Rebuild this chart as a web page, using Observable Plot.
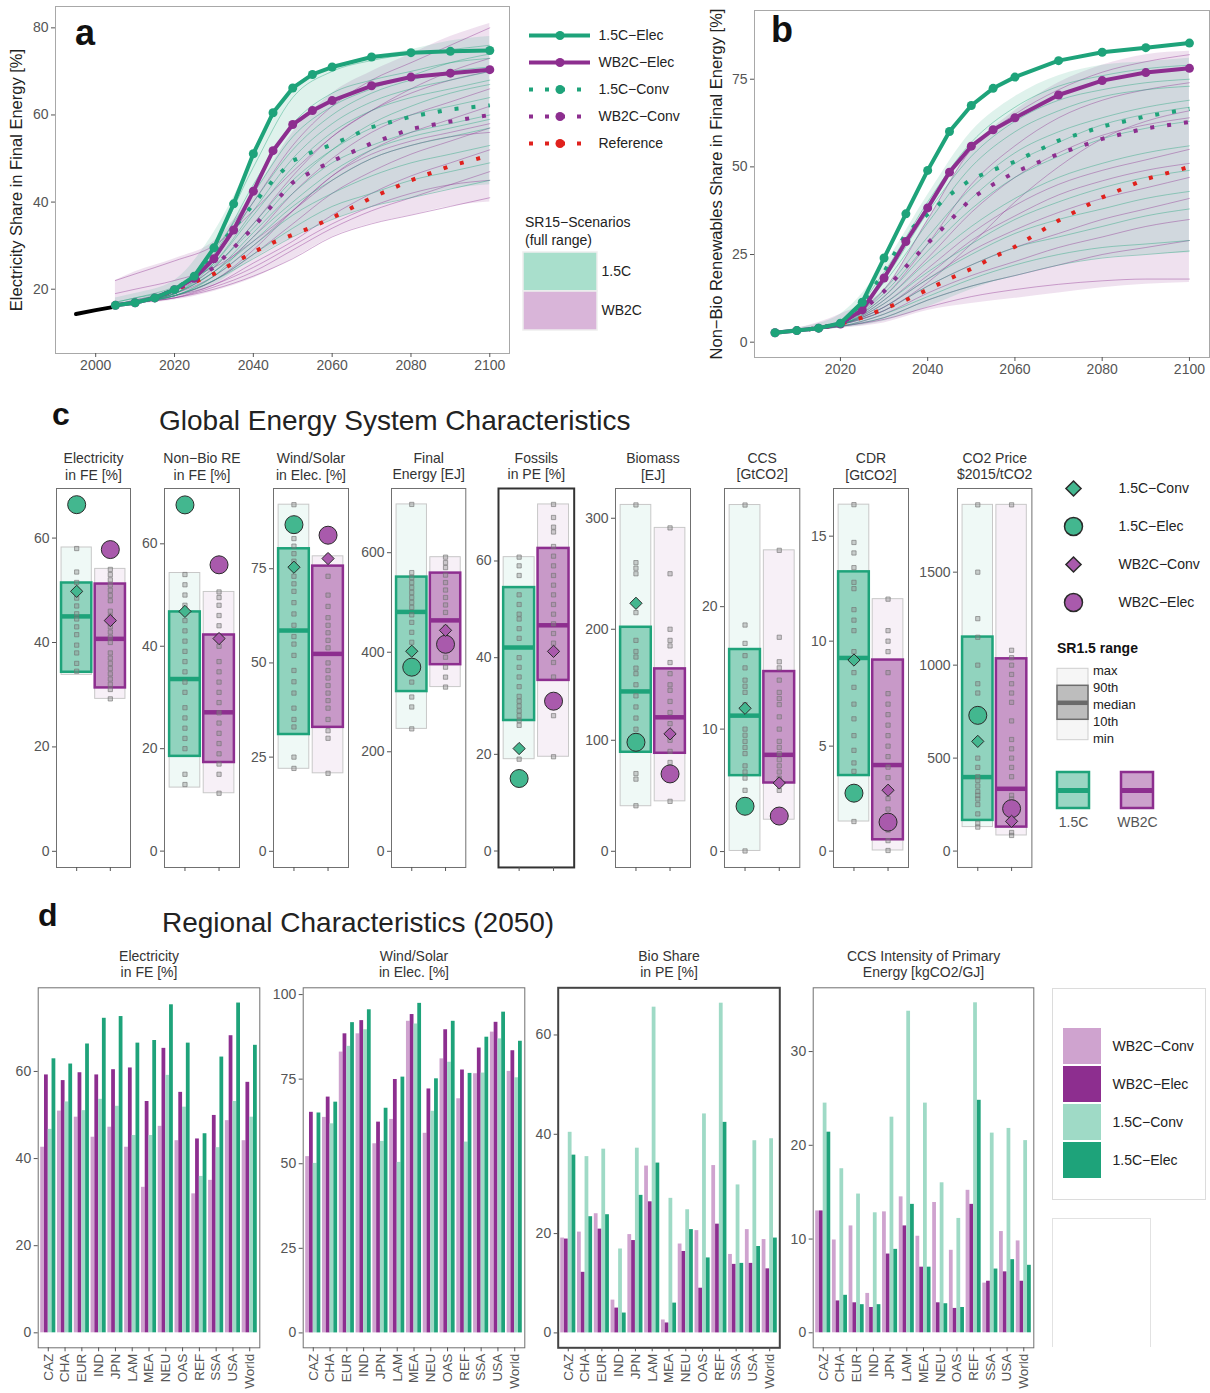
<!DOCTYPE html>
<html><head><meta charset="utf-8">
<script src="https://cdn.jsdelivr.net/npm/d3@7"></script>
<script src="https://cdn.jsdelivr.net/npm/@observablehq/plot@0.6"></script>
<style>
body{margin:0;background:#fff;font-family:"Liberation Sans",Arial,sans-serif;}
#root{position:relative;width:1210px;height:1393px;overflow:hidden;background:#fff;}
.abs{position:absolute;}
.abs svg{display:block;overflow:visible;}
.txt{position:absolute;white-space:nowrap;line-height:1;color:#111;}
</style></head><body><div id="root"></div>
<script>
// ---------------- DATA ----------------
// Panels a/b: highlighted scenario series
const years = [2005,2010,2015,2020,2025,2030,2035,2040,2045,2050,2055,2060,2070,2080,2090,2100];
const histYears = [1995,2000,2005];
const aHist = [14.3,15.2,16.0];
const aElec15 = [16.3,16.9,18.0,19.9,23.0,29.5,39.6,51.1,60.5,66.2,69.3,71.0,73.3,74.3,74.6,74.8];
const aElecWB = [16.3,16.9,18.0,19.9,22.5,27.0,33.6,42.5,51.8,57.8,61.0,63.3,66.7,68.7,69.6,70.4];
const aConv15 = [16.3,16.9,18.0,19.9,23.0,28.5,34.0,39.5,45.0,49.5,51.5,53.2,57.2,59.6,61.3,62.2];
const aConvWB = [16.3,16.9,18.0,19.8,22.0,25.0,29.5,34.2,39.5,44.5,47.1,49.4,53.5,56.8,58.5,60.0];
const aRef    = [16.3,16.9,18.0,19.8,21.6,23.5,26.0,28.5,30.7,32.5,34.3,36.4,41.0,45.0,48.3,50.7];
const bElec15 = [2.7,3.3,4.0,5.4,11.4,24.0,36.6,49.0,60.1,67.5,72.4,75.6,80.3,82.7,84.0,85.3];
const bElecWB = [2.7,3.3,4.0,5.2,9.2,18.3,28.7,38.3,48.5,55.9,60.6,64.0,70.5,74.6,76.9,78.1];
const bConv15 = [2.7,3.3,4.0,5.4,11.0,20.0,31.0,36.5,42.0,46.5,49.1,51.5,57.5,61.5,64.4,66.5];
const bConvWB = [2.7,3.3,4.0,5.2,9.0,14.5,21.5,28.2,34.5,41.0,45.0,48.5,53.7,58.0,61.0,62.8];
const bRef    = [2.7,3.3,4.0,5.2,7.0,9.5,12.0,15.0,18.1,20.9,24.2,27.2,34.7,41.3,46.5,50.0];

// SR15 scenario ensembles (panels a/b)
const scenYears = [2005,2010,2020,2030,2040,2050,2060,2070,2080,2090,2100];
const aBand15Lo = [16,16.5,18,21,27,32,36,39,41,43,44];
const aBand15Hi = [18,19,22,33,50,66,71,73.5,75,77,78];
const aBandWBLo = [16,16.5,17.5,19.5,22.5,27,32,35,37,39,40];
const aBandWBHi = [22,24,27,31,42,56,65,70,74,78,81];
const aLines15 = [
 [16.5,17,19.5,30,48,64,70,72.5,74,75,76],[16.5,17,20,28,44,58,65,68,70,72,73],
 [16.5,17,19.5,27,40,52,60,65,68,70,71],[16.5,17.5,20,26,37,48,56,61,64,66,68],
 [16.5,17,19,25,35,45,52,57,60,62,64],[16.5,17,19,24,33,42,49,53,56,58,60],
 [16.5,17,19,24,31,39,45,50,53,55,57],[16.5,17,18.5,23,30,37,42,46,49,51,53],
 [16.5,17,18.5,22,28,34,39,42,45,47,49],[16.5,17,18.5,22,27,32,36,39,41,43,45],
 [17,18,20,29,42,55,62,66,69,72,74],[17,18,20.5,25.5,34,44,52,58,62,65,67],
 [16.5,17,19,26,38,50,58,63,66,68,70],[16.5,17,18.5,23,32,40,47,52,55,57,59]];
const aLinesWB = [
 [22,23.5,26.5,30,38,47,55,61,66,70,73],[16.5,17.5,20,27,40,53,62,68,72,76,80],
 [16.5,17,19.5,25,35,46,55,61,65,68,70],[16.5,17,19,24,32,42,50,56,60,63,66],
 [16.5,17,19,23,30,38,46,52,56,59,62],[16.5,17,18.5,22,28,35,42,47,51,54,57],
 [16.5,17,18.5,21,26,31,37,42,46,49,52],[16.5,17,18,20.5,24,29,34,38,41,44,47],
 [16.5,17,18,20,23,27,32,35,37,39,41],[19,20,22,25,31,38,45,50,53,55,56],
 [16.5,17,18.5,22,29,38,46,51,54,56,58],[16.5,17,18,21,25,30,35,39,42,44,45]];
const bBand15Lo = [2.5,3,4,6,10,15,19,22,24,25,25.5];
const bBand15Hi = [3,4,8,22,42,60,70,76,79,80,81];
const bBandWBLo = [2.5,3,4,5.5,9,11,12.5,14,15.5,16.5,17];
const bBandWBHi = [3,4,8,15,35,55,66,74,79,82,83];
const bLines15 = [
 [2.7,3.3,5.5,20,40,57,67,73,76,78,79],[2.7,3.3,5.5,17,34,50,60,66,70,72,73],
 [2.7,3.3,5.5,15,30,44,54,60,64,67,69],[2.7,3.3,5,13,26,38,47,53,58,61,63],
 [2.7,3.3,5,12,23,33,41,47,51,54,56],[2.7,3.3,5,11,20,28,35,40,44,47,49],
 [2.7,3.3,5,10,18,25,31,35,38,41,43],[2.7,3.3,5,9,16,22,27,30,33,36,38],
 [2.7,3.3,4.5,8,13,18,22,25,27,28,29],[2.7,3.3,4.5,7,12,16,19,22,24,25,26],
 [2.7,3.3,6,18,37,53,63,69,72,74,75],[2.7,3.3,5,14,28,41,51,57,62,65,67]];
const bLinesWB = [
 [2.7,3.3,5.5,15,35,55,65,72,77,80,82],[2.7,3.3,5.5,13,28,45,56,64,69,72,74],
 [2.7,3.3,5,12,24,37,47,54,59,62,64],[2.7,3.3,5,11,21,31,39,45,49,52,55],
 [2.7,3.3,5,10,18,26,32,37,41,44,47],[2.7,3.3,5,9,16,22,27,31,35,38,41],
 [2.7,3.3,4.5,8,14,19,23,27,30,33,35],[2.7,3.3,4.5,7,12,16,19,22,25,27,29],
 [2.7,3.3,4.5,6.5,10,13,15,16.5,17.5,18,18],[2.7,3.3,5,9,17,28,40,50,58,63,66],
 [2.7,3.3,5,10,19,29,36,42,46,49,51]];

// Panel c: global indicators (2050)
const cTitles = ["Electricity\nin FE [%]","Non\u2212Bio RE\nin FE [%]","Wind/Solar\nin Elec. [%]","Final\nEnergy [EJ]","Fossils\nin PE [%]","Biomass\n[EJ]","CCS\n[GtCO2]","CDR\n[GtCO2]","CO2 Price\n$2015/tCO2"];
const cGroups = ["1.5C","WB2C"];
const c15Min  = [33.8,12.4,21.9,246,19.0,40.6,0.05,1.41,129];
const c15P10  = [34.3,18.5,31.0,321,27.0,89.2,6.2,3.6,165];
const c15Med  = [45.0,33.6,58.6,481,42.1,144,11.1,9.2,398];
const c15P90  = [51.4,46.7,80.3,551,54.5,201.8,16.5,13.3,1151];
const c15Max  = [58.2,54.3,92.0,697,60.8,312,28.3,16.5,1862];
const c15Conv = [49.8,46.8,75.4,402,21.2,223.4,11.7,9.1,590];
const c15Elec = [66.4,67.6,86.7,370,15.0,98.2,3.7,2.76,730];
const cWBMin  = [29.2,11.3,20.7,330,19.5,45,2.6,0.03,84];
const cWBP10  = [31.3,17.3,32.9,375,35.3,88.3,5.6,0.54,129];
const cWBMed  = [40.7,27.1,52.4,464,46.7,120.7,7.9,4.1,335];
const cWBP90  = [51.2,42.2,75.7,559,62.6,164.3,14.7,9.1,1034];
const cWBMax  = [54.1,50.6,78.3,591,71.7,291.3,24.6,12.0,1862];
const cWBConv = [44.2,41.5,77.7,444,41.3,105.8,5.6,2.9,160];
const cWBElec = [57.8,55.9,83.9,416,31.0,69.7,2.9,1.38,228];
const c15Scatter = [
 [58,53.5,51.5,50,48.5,47,45.5,44.5,43,41.5,39.5,38,36,34.5],
 [54,52,50,48,45,43,41,39,37,35,33,31,28,26,24,22,20,15,13],
 [92,85,83,81,79,77,73,71,69,66,63,60,57,55,52,48,45,42,38,35,33,25,22],
 [697,560,550,540,530,520,510,500,490,475,460,440,420,380,360,340,310,290,246],
 [60.8,59,57,53,51,49,48,46,44,40,38,36,34,32,31,30,29,28,27,26,19],
 [312,260,255,250,215,190,180,175,165,160,150,140,130,120,110,95,70,65,41],
 [28.3,18.5,17,16,15,14,13.5,13,12,10,9.5,9,8.5,8,7,6.5,6,5,0.05],
 [16.5,14.7,14.2,13.5,12.8,12.5,11.5,11,10.5,9.5,8.5,7.8,7,6.3,5.5,4.8,4.2,3.8,1.41],
 [1862,1500,1250,1150,1000,900,850,700,500,450,400,380,350,320,300,280,250,200,150,129]];
const cWBScatter = [
 [54,53,52,51,50,49,48,46,45,43,42,41,40,38,37,36,35,34,33,32,31,29.2],
 [50.6,49.5,48,46,44,40,37,35,33,31,29,27,25,23,21,19,17,15,11.3],
 [78.3,73,68,65,62,60,58,56,54,50,48,46,44,42,40,38,35,32,30,20.7],
 [591,580,570,555,540,525,510,495,480,450,435,420,405,390,370,350,330],
 [71.7,69,67,66,63,61,59,57,55,53,51,49,47,45,43,39,36,30,28,19.5],
 [291.3,250,200,190,185,170,160,150,145,135,125,115,100,90,80,45],
 [24.6,17.5,15.5,15,14,13,12.5,12,11,10,9,8.5,8,7.5,7,6.5,6,5,2.6],
 [12,10.5,10,9.5,8.5,7.5,7,6.5,6,5.5,5,4.5,4,3.5,3,2.5,2,1.5,1,0.5,0.03],
 [1862,1080,1040,1000,950,900,850,800,700,600,550,500,450,400,300,280,250,200,150,100,84]];
const cScenarioLabels = ["1.5C\u2212Conv","1.5C\u2212Elec","WB2C\u2212Conv","WB2C\u2212Elec"];
const rangeLabels = ["max","90th","median","10th","min"];
const rangeLevels = [4,3,2,1,0];

// Panel d: regional indicators (2050)
const regions = ["CAZ","CHA","EUR","IND","JPN","LAM","MEA","NEU","OAS","REF","SSA","USA","World"];
const dSeries = ["WB2C\u2212Conv","WB2C\u2212Elec","1.5C\u2212Conv","1.5C\u2212Elec"];
const dTitles = ["Electricity\nin FE [%]","Wind/Solar\nin Elec. [%]","Bio Share\nin PE [%]","CCS Intensity of Primary\nEnergy [kgCO2/GJ]"];
const dElecWBConv = [42.6,50.9,49.5,44.9,47.2,42.6,33.4,47.4,44.1,31.9,35.0,48.7,44.1];
const dElecWBElec = [59.2,57.9,59.7,59.2,60.4,60.8,53.1,65.3,55.2,44.5,49.9,68.2,57.5];
const dElec15Conv = [46.7,53.0,51.0,53.6,52.0,45.3,45.3,59.1,51.8,35.9,42.5,53.1,49.5];
const dElec15Elec = [62.9,61.7,66.3,72.2,72.6,66.5,67.1,75.3,66.5,45.7,63.3,75.7,66.0];
const dWindWBConv = [52.1,63.7,83.0,88.4,55.9,63.1,92.1,59.0,81.0,69.2,76.6,88.9,77.3];
const dWindWBElec = [65.2,69.7,88.4,92.3,62.3,74.9,94.1,72.1,89.6,77.7,84.2,91.8,83.4];
const dWind15Conv = [50.1,61.8,84.7,89.6,56.6,50.4,91.3,65.5,80.0,56.4,76.8,86.9,75.4];
const dWind15Elec = [65.0,68.2,91.7,95.5,66.4,75.6,97.4,75.1,92.1,76.7,87.4,94.8,86.2];
const dBioWBConv = [19.1,20.3,24.0,6.6,19.8,33.6,2.6,17.9,20.6,33.7,15.8,20.8,18.8];
const dBioWBElec = [18.9,12.2,20.9,5.0,18.6,26.4,2.0,16.4,9.0,21.9,13.8,14.0,12.9];
const dBio15Conv = [40.4,35.5,37.0,16.9,37.2,65.6,27.1,24.8,44.1,66.4,29.8,38.7,39.1];
const dBio15Elec = [35.8,23.4,23.8,4.0,27.7,34.2,6.0,20.8,15.1,42.4,14.0,17.4,19.1];
const dCcsWBConv = [13.0,9.9,11.4,4.2,12.9,14.5,10.3,13.9,8.8,15.2,5.3,10.8,9.8];
const dCcsWBElec = [13.0,3.4,3.2,2.7,8.4,11.4,7.0,3.2,2.6,13.7,5.5,6.5,5.5];
const dCcs15Conv = [24.5,17.5,14.8,12.8,23.0,34.3,24.5,16.0,12.2,35.2,21.3,21.8,20.5];
const dCcs15Elec = [21.4,4.0,3.0,3.0,8.9,13.7,7.0,3.1,2.7,24.8,6.8,7.8,7.2];

// ---------------- STYLE ----------------
const G = "#1ea37a", P = "#8d2e8f", R = "#e0211d";
const Gmid = "#43b78f", Pmid = "#a95aac";
const dColors = ["#cfa3cf","#8d2e8f","#9fdac6","#1ea37a"];
const baseStyle = "background:transparent;overflow:visible;max-width:none;font-family:'Liberation Sans',Arial,sans-serif;font-size:14px;color:#555;";
const root = document.getElementById("root");
function place(node, left, top) {
  const d = document.createElement("div");
  d.className = "abs"; d.style.left = left + "px"; d.style.top = top + "px";
  d.appendChild(node); root.appendChild(d); return d;
}
function txt(s, left, top, css) {
  const d = document.createElement("div");
  d.className = "txt"; d.textContent = s;
  d.style.left = left + "px"; d.style.top = top + "px";
  d.style.cssText += css || "";
  root.appendChild(d); return d;
}
const seriesRows = (xs, ys) => xs.map((x, i) => ({year: x, value: ys[i]}));
const scenRows = (lines) => lines.flatMap((vals, id) => vals.map((v, i) => ({year: scenYears[i], value: v, id})));
const bandRows = (lo, hi) => scenYears.map((y, i) => ({year: y, lo: lo[i], hi: hi[i]}));

// ---------------- PANELS a / b ----------------
function linePanel(cfg) {
  const dotted = {x: "year", y: "value", strokeWidth: 4, strokeDasharray: "4,13", strokeLinecap: "butt"};
  const marks = [
    Plot.areaY(bandRows(cfg.bandWBLo, cfg.bandWBHi), {x: "year", y1: "lo", y2: "hi", fill: P, fillOpacity: 0.14, curve: "monotone-x"}),
    Plot.areaY(bandRows(cfg.band15Lo, cfg.band15Hi), {x: "year", y1: "lo", y2: "hi", fill: G, fillOpacity: 0.14, curve: "monotone-x"}),
    Plot.line(scenRows(cfg.linesWB), {x: "year", y: "value", z: "id", stroke: P, strokeOpacity: 0.45, strokeWidth: 0.9, curve: "monotone-x"}),
    Plot.line(scenRows(cfg.lines15), {x: "year", y: "value", z: "id", stroke: G, strokeOpacity: 0.45, strokeWidth: 0.9, curve: "monotone-x"}),
    Plot.line(seriesRows(years, cfg.ref), {...dotted, stroke: R}),
    Plot.line(seriesRows(years, cfg.convWB), {...dotted, stroke: P}),
    Plot.line(seriesRows(years, cfg.conv15), {...dotted, stroke: G}),
  ];
  if (cfg.hist) marks.push(Plot.line(seriesRows(histYears, cfg.hist), {x: "year", y: "value", stroke: "#000", strokeWidth: 4}));
  marks.push(
    Plot.line(seriesRows(years, cfg.elecWB), {x: "year", y: "value", stroke: P, strokeWidth: 4}),
    Plot.dot(seriesRows(years, cfg.elecWB), {x: "year", y: "value", fill: P, r: 4.5}),
    Plot.line(seriesRows(years, cfg.elec15), {x: "year", y: "value", stroke: G, strokeWidth: 4}),
    Plot.dot(seriesRows(years, cfg.elec15), {x: "year", y: "value", fill: G, r: 4.5}),
    Plot.frame({stroke: "#a8a8a8"}),
    Plot.axisX({ticks: cfg.xTicks, tickFormat: "d", tickSize: 4, tickPadding: 3, label: null}),
    Plot.axisY({ticks: cfg.yTicks, tickFormat: "d", tickSize: 4, tickPadding: 3, label: null}),
    Plot.text([cfg.ylabel], {text: d => d, frameAnchor: "left", textAnchor: "middle", rotate: -90, dx: cfg.labelDx, fontSize: 16.5, fill: "#222"})
  );
  return Plot.plot({
    width: cfg.width, height: cfg.height,
    marginLeft: cfg.ml, marginRight: cfg.mr, marginTop: cfg.mt, marginBottom: cfg.mb,
    style: baseStyle,
    x: {domain: cfg.xDomain}, y: {domain: cfg.yDomain},
    marks
  });
}

place(linePanel({
  width: 520, height: 380, ml: 55, mr: 11, mt: 6, mb: 27,
  xDomain: [1989.8, 2105], yDomain: [5.24, 84.9],
  xTicks: [2000,2020,2040,2060,2080,2100], yTicks: [20,40,60,80],
  ylabel: "Electricity Share in Final Energy [%]", labelDx: -39,
  hist: aHist, elec15: aElec15, elecWB: aElecWB, conv15: aConv15, convWB: aConvWB, ref: aRef,
  band15Lo: aBand15Lo, band15Hi: aBand15Hi, bandWBLo: aBandWBLo, bandWBHi: aBandWBHi,
  lines15: aLines15, linesWB: aLinesWB
}), 0, 0);

place(linePanel({
  width: 510, height: 380, ml: 54, mr: 1, mt: 10, mb: 23,
  xDomain: [2000.3, 2104.6], yDomain: [-4.37, 94.6],
  xTicks: [2020,2040,2060,2080,2100], yTicks: [0,25,50,75],
  ylabel: "Non\u2212Bio Renewables Share in Final Energy [%]", labelDx: -38,
  hist: null, elec15: bElec15, elecWB: bElecWB, conv15: bConv15, convWB: bConvWB, ref: bRef,
  band15Lo: bBand15Lo, band15Hi: bBand15Hi, bandWBLo: bBandWBLo, bandWBHi: bBandWBHi,
  lines15: bLines15, linesWB: bLinesWB
}), 700, 0);

txt("a", 75, 15, "font-size:36px;font-weight:bold;");
txt("b", 771, 12, "font-size:36px;font-weight:bold;");

// Panel a legend (lines)
const aLegend = [
  {label: "1.5C\u2212Elec", color: G, solid: true},
  {label: "WB2C\u2212Elec", color: P, solid: true},
  {label: "1.5C\u2212Conv", color: G, solid: false},
  {label: "WB2C\u2212Conv", color: P, solid: false},
  {label: "Reference", color: R, solid: false}
];
place(Plot.plot({
  width: 190, height: 138, marginLeft: 9, marginRight: 120, marginTop: 14, marginBottom: 14,
  style: baseStyle,
  x: {domain: [0, 1], axis: null},
  y: {type: "point", domain: aLegend.map(d => d.label), padding: 0, axis: null},
  marks: [
    Plot.ruleY(aLegend.filter(d => d.solid), {y: "label", x1: 0, x2: 1, stroke: "color", strokeWidth: 4}),
    Plot.ruleY(aLegend.filter(d => !d.solid), {y: "label", x1: 0, x2: 1, stroke: "color", strokeWidth: 4, strokeDasharray: "4,12"}),
    Plot.dot(aLegend, {y: "label", x: 0.5, fill: "color", r: 4.5}),
    Plot.text(aLegend, {y: "label", x: 1, text: "label", dx: 8, textAnchor: "start", fontSize: 14, fill: "#222"})
  ]
}), 520, 20);

// Panel a legend (SR15 ranges)
txt("SR15\u2212Scenarios", 525, 215, "font-size:14px;color:#222;");
txt("(full range)", 525, 233, "font-size:14px;color:#222;");
place(Plot.plot({
  width: 110, height: 88, marginLeft: 8, marginRight: 28, marginTop: 5, marginBottom: 5,
  style: baseStyle,
  x: {domain: [0, 1], axis: null},
  y: {type: "band", domain: cGroups, padding: 0, axis: null},
  marks: [
    Plot.barX(cGroups, {y: d => d, x1: 0, x2: 1, fill: d => d === "1.5C" ? "#a9dfcc" : "#d9b5d9", stroke: "#eeeeee", strokeWidth: 1.5}),
    Plot.text(cGroups, {y: d => d, x: 1, text: d => d, dx: 4, textAnchor: "start", fontSize: 14, fill: "#222"})
  ]
}), 515, 247);

// ---------------- PANEL c ----------------
txt("c", 52, 398, "font-size:32px;font-weight:bold;");
txt("Global Energy System Characteristics", 159, 407, "font-size:28px;color:#222;");

const cLayout = [
  {fl: 56, fr: 130, y: [-3.1, 69.5], ticks: [0,20,40,60]},
  {fl: 164.3, fr: 239.3, y: [-3.2, 70.8], ticks: [0,20,40,60]},
  {fl: 273.3, fr: 348.3, y: [-4.3, 96.3], ticks: [0,25,50,75]},
  {fl: 390.7, fr: 465, y: [-32.5, 729], ticks: [0,200,400,600]},
  {fl: 498.3, fr: 574, y: [-3.4, 75.0], ticks: [0,20,40,60], bold: true},
  {fl: 615, fr: 690, y: [-14.6, 326.8], ticks: [0,100,200,300]},
  {fl: 724, fr: 799.3, y: [-1.3, 29.65], ticks: [0,10,20]},
  {fl: 832.7, fr: 907.7, y: [-0.78, 17.27], ticks: [0,5,10,15]},
  {fl: 957.3, fr: 1031.7, y: [-88, 1950], ticks: [0,500,1000,1500]}
];

cLayout.forEach((L, i) => {
  const rows = [
    {g: "1.5C", min: c15Min[i], p10: c15P10[i], med: c15Med[i], p90: c15P90[i], max: c15Max[i], conv: c15Conv[i], elec: c15Elec[i], dark: G, mid: Gmid},
    {g: "WB2C", min: cWBMin[i], p10: cWBP10[i], med: cWBMed[i], p90: cWBP90[i], max: cWBMax[i], conv: cWBConv[i], elec: cWBElec[i], dark: P, mid: Pmid}
  ];
  const scat = [
    ...c15Scatter[i].map(v => ({g: "1.5C", v})),
    ...cWBScatter[i].map(v => ({g: "WB2C", v}))
  ];
  const ml = 46, mr = 4;
  const svg = Plot.plot({
    width: (L.fr - L.fl) + ml + mr, height: 440,
    marginLeft: ml, marginRight: mr, marginTop: 48, marginBottom: 13,
    style: baseStyle,
    x: {type: "band", domain: cGroups, paddingInner: 0.1, paddingOuter: 0.15, round: false},
    y: {domain: L.y},
    marks: [
      Plot.barY(rows, {x: "g", y1: "min", y2: "max", fill: "dark", fillOpacity: 0.07, stroke: "#c8c8c8", strokeWidth: 1}),
      Plot.barY(rows, {x: "g", y1: "p10", y2: "p90", fill: "dark", fillOpacity: 0.45, stroke: "dark", strokeWidth: 2.5}),
      Plot.tickY(rows, {x: "g", y: "med", stroke: "dark", strokeWidth: 4.5}),
      Plot.dot(scat, {x: "g", y: "v", symbol: "square", r: 2.4, stroke: "#737373", strokeOpacity: 0.7, strokeWidth: 0.9, fill: "#8c8c8c", fillOpacity: 0.4}),
      Plot.dot(rows, {x: "g", y: "elec", r: 9, fill: "mid", stroke: "#2a2a2a", strokeWidth: 1}),
      Plot.dot(rows, {x: "g", y: "conv", symbol: "diamond2", r: 5.5, fill: "mid", stroke: "#2a2a2a", strokeWidth: 1}),
      Plot.frame({stroke: L.bold ? "#333" : "#707070", strokeWidth: L.bold ? 2 : 1}),
      Plot.axisY({ticks: L.ticks, tickFormat: "d", tickSize: 4, tickPadding: 3, label: null}),
      Plot.axisX({tickSize: 4, tickFormat: () => "", label: null}),
      Plot.text([cTitles[i]], {text: d => d, frameAnchor: "top", dy: -9, lineAnchor: "bottom", lineHeight: 1.15, fontSize: 14, fill: "#333"})
    ]
  });
  place(svg, L.fl - ml, 440);
});

// Panel c legend: scenario symbols
const cLegRows = cScenarioLabels.map((s, k) => ({label: s, fill: k < 2 ? Gmid : Pmid, conv: k % 2 === 0}));
place(Plot.plot({
  width: 160, height: 152, marginLeft: 23, marginRight: 10, marginTop: 18, marginBottom: 20,
  style: baseStyle,
  x: {axis: null}, y: {type: "point", domain: cScenarioLabels, padding: 0, axis: null},
  marks: [
    Plot.dot(cLegRows.filter(d => d.conv), {y: "label", frameAnchor: "left", symbol: "diamond2", r: 6.8, fill: "fill", stroke: "#2a2a2a"}),
    Plot.dot(cLegRows.filter(d => !d.conv), {y: "label", frameAnchor: "left", r: 9, fill: "fill", stroke: "#2a2a2a"}),
    Plot.text(cLegRows, {y: "label", frameAnchor: "left", text: "label", dx: 45, textAnchor: "start", fontSize: 14, fill: "#222"})
  ]
}), 1050, 470);

// Panel c legend: SR1.5 range key
txt("SR1.5 range", 1057, 641, "font-size:14px;font-weight:bold;color:#111;");
const rangeRows = rangeLabels.map((s, k) => ({label: s, level: rangeLevels[k]}));
place(Plot.plot({
  width: 120, height: 88, marginLeft: 7, marginRight: 82, marginTop: 10, marginBottom: 10,
  style: baseStyle,
  x: {type: "band", domain: ["SR1.5"], padding: 0, axis: null},
  y: {domain: [0, 4], axis: null},
  marks: [
    Plot.barY([{k: "SR1.5", lo: -0.1, hi: 4.1}], {x: "k", y1: "lo", y2: "hi", fill: "#f6f6f6", stroke: "#cfcfcf"}),
    Plot.barY([{k: "SR1.5", lo: 1.1, hi: 3.1}], {x: "k", y1: "lo", y2: "hi", fill: "#bdbdbd", stroke: "#6d6d6d", strokeWidth: 1.5}),
    Plot.tickY([{k: "SR1.5", v: 2.1}], {x: "k", y: "v", stroke: "#6a6a6a", strokeWidth: 4.5}),
    Plot.text(rangeRows, {x: () => "SR1.5", y: "level", text: "label", dx: 20, textAnchor: "start", fontSize: 13, fill: "#222"})
  ]
}), 1050, 660);

// Panel c legend: 1.5C / WB2C boxes
const keyRows = [
  {g: "1.5C", lo: 0, mid: 0.5, hi: 1, dark: G},
  {g: "WB2C", lo: 0, mid: 0.5, hi: 1, dark: P}
];
place(Plot.plot({
  width: 128, height: 70, marginLeft: 0, marginRight: 0, marginTop: 7, marginBottom: 27,
  style: baseStyle,
  x: {type: "band", domain: cGroups, paddingInner: 0.5, paddingOuter: 0.25, round: false},
  y: {domain: [0, 1], axis: null},
  marks: [
    Plot.barY(keyRows, {x: "g", y1: "lo", y2: "hi", fill: "dark", fillOpacity: 0.45, stroke: "dark", strokeWidth: 2.5}),
    Plot.tickY(keyRows, {x: "g", y: "mid", stroke: "dark", strokeWidth: 5}),
    Plot.axisX({tickSize: 0, tickPadding: 9, fontSize: 14, label: null})
  ]
}), 1041, 765);

// ---------------- PANEL d ----------------
txt("d", 38, 899, "font-size:32px;font-weight:bold;");
txt("Regional Characteristics (2050)", 162, 909, "font-size:28px;color:#222;");

const dLayout = [
  {left: 0, width: 262, ml: 37.7, mr: 2.7, y: [-3.44, 79.2], ticks: [0,20,40,60], vals: [dElecWBConv, dElecWBElec, dElec15Conv, dElec15Elec]},
  {left: 262, width: 266, ml: 40.7, mr: 3.7, y: [-4.4, 102], ticks: [0,25,50,75,100], vals: [dWindWBConv, dWindWBElec, dWind15Conv, dWind15Elec]},
  {left: 528, width: 254, ml: 29.7, mr: 2.7, y: [-3.0, 69.5], ticks: [0,20,40,60], vals: [dBioWBConv, dBioWBElec, dBio15Conv, dBio15Elec], bold: true},
  {left: 784, width: 252, ml: 28.7, mr: 2.7, y: [-1.6, 36.8], ticks: [0,10,20,30], vals: [dCcsWBConv, dCcsWBElec, dCcs15Conv, dCcs15Elec]}
];
const pIn = 0.1, pOut = 0.15;
dLayout.forEach((L, i) => {
  const step = (L.width - L.ml - L.mr) / (regions.length - pIn + 2 * pOut);
  const bw = step * (1 - pIn);
  const barMarks = L.vals.map((vals, k) =>
    Plot.barY(regions.map((r, j) => ({region: r, value: vals[j], series: dSeries[k]})),
      {x: "region", y: "value", fill: dColors[k], insetLeft: k * bw / 4, insetRight: (3 - k) * bw / 4}));
  const svg = Plot.plot({
    width: L.width, height: 453,
    marginLeft: L.ml, marginRight: L.mr, marginTop: 47.3, marginBottom: 45.7,
    style: baseStyle,
    x: {type: "band", domain: regions, paddingInner: pIn, paddingOuter: pOut, round: false},
    y: {domain: L.y},
    marks: [
      ...barMarks,
      Plot.frame({stroke: L.bold ? "#444" : "#707070", strokeWidth: L.bold ? 2 : 1}),
      Plot.axisY({ticks: L.ticks, tickFormat: "d", tickSize: 4, tickPadding: 3, label: null}),
      Plot.axisX({tickSize: 4, tickPadding: 2, tickRotate: -90, fontSize: 13.5, label: null}),
      Plot.text([dTitles[i]], {text: d => d, frameAnchor: "top", dy: -11, lineAnchor: "bottom", lineHeight: 1.15, fontSize: 14, fill: "#333"})
    ]
  });
  place(svg, L.left, 940);
});

// Panel d legend
const legBox = document.createElement("div");
legBox.className = "abs";
legBox.style.cssText = "left:1052px;top:988px;width:152px;height:210px;border:1px solid #dcdcdc;";
root.appendChild(legBox);
place(Plot.plot({
  width: 150, height: 200, marginLeft: 10, marginRight: 102, marginTop: 38, marginBottom: 10,
  style: baseStyle,
  x: {domain: [0, 1], axis: null},
  y: {type: "band", domain: dSeries, paddingInner: 0.06, paddingOuter: 0, axis: null},
  marks: [
    Plot.barX(dSeries, {y: d => d, x1: 0, x2: 1, fill: d => dColors[dSeries.indexOf(d)]}),
    Plot.text(dSeries, {y: d => d, x: 1, text: d => d, dx: 11, textAnchor: "start", fontSize: 14, fill: "#222"})
  ]
}), 1053, 989);
const emptyBox = document.createElement("div");
emptyBox.className = "abs";
emptyBox.style.cssText = "left:1052px;top:1218px;width:97px;height:128px;border:1px solid #e2e2e2;border-bottom:none;";
root.appendChild(emptyBox);
</script></body></html>
